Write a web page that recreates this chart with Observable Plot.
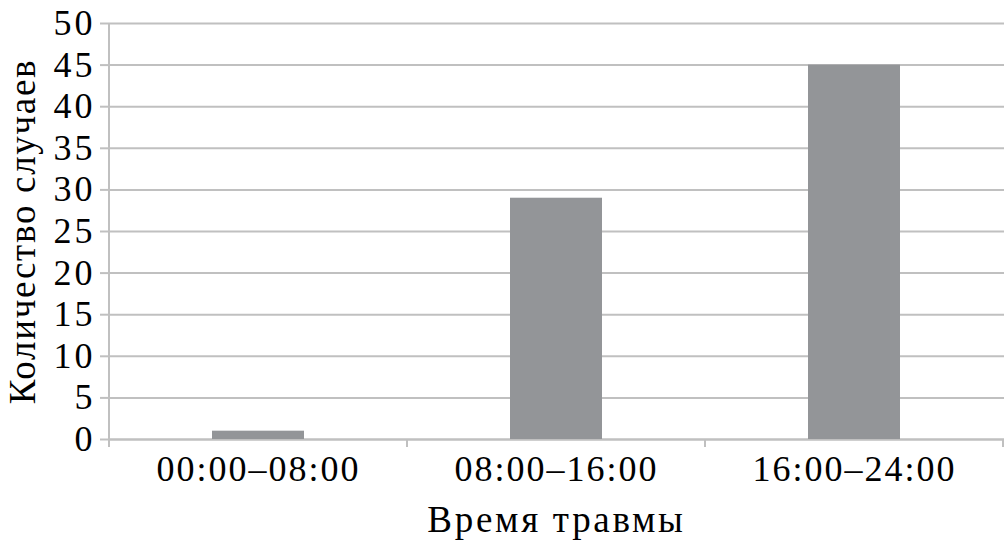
<!DOCTYPE html>
<html>
<head>
<meta charset="utf-8">
<script src="https://cdn.jsdelivr.net/npm/d3@7"></script>
<script src="https://cdn.jsdelivr.net/npm/@observablehq/plot@0.6"></script>
<style>
  html, body { margin: 0; padding: 0; background: #fff; }
  g[aria-label="x-axis tick label"] text { letter-spacing: 2px; }
  g[aria-label="y-axis tick label"] text { letter-spacing: 3px; }
  g.ytitle text { letter-spacing: 1.7px; }
  g.xtitle text { letter-spacing: 2.7px; }
</style>
</head>
<body>
<div id="chart"></div>
<script>
const categories = ["00:00–08:00", "08:00–16:00", "16:00–24:00"];
const counts = [1, 29, 45];
const yTicks = [0, 5, 10, 15, 20, 25, 30, 35, 40, 45, 50];
const xTitle = "Время травмы";
const yTitle = "Количество случаев";

const data = categories.map((c, i) => ({category: c, count: counts[i]}));
const gridColor = "#c0c0c0";
const font = "'Liberation Serif', 'DejaVu Serif', serif";

// category divider ticks and left axis line, derived from the scales
function dividers(index, scales, values, dimensions, context) {
  const x = scales.x, y = scales.y;
  const bw = x.bandwidth();
  const step = x.step ? x.step() : bw / (1 - 0.69);
  const g = d3.create("svg:g");
  const y0 = y(0), yTop = y(d3.max(yTicks));
  const edges = categories.map(c => x(c) - (step - bw) / 2);
  edges.push(x(categories[categories.length - 1]) + bw + (step - bw) / 2);
  edges.forEach((e, i) => {
    g.append("line")
      .attr("x1", e).attr("x2", e)
      .attr("y1", i === 0 ? yTop : y0).attr("y2", y0 + 8)
      .attr("stroke", gridColor).attr("stroke-width", 2);
  });
  return g.node();
}

const chart = Plot.plot({
  width: 1006,
  height: 552,
  marginLeft: 108,
  marginRight: 2,
  marginTop: 23,
  marginBottom: 113,
  style: {fontFamily: font, fontSize: "35px", color: "#000", background: "#fff"},
  x: {domain: categories, paddingInner: 0.69, paddingOuter: 0.345, label: null},
  y: {domain: [0, 50], label: null},
  marks: [
    Plot.gridY(yTicks, {stroke: gridColor, strokeOpacity: 1, strokeWidth: 2}),
    Plot.axisY(yTicks, {tickSize: 8, tickPadding: 5, stroke: gridColor, strokeWidth: 2, label: null, fontSize: 36}),
    Plot.axisX({tickSize: 0, tickPadding: 16, label: null, fontSize: 36}),
    Plot.ruleY([0], {stroke: gridColor, strokeWidth: 2}),
    Plot.barY(data, {x: "category", y: "count", fill: "#939598"}),
    dividers,
    Plot.text([yTitle], {frameAnchor: "left", textAnchor: "middle", rotate: -90, dx: -85, fontSize: 37, fill: "#000", className: "ytitle"}),
    Plot.text([xTitle], {frameAnchor: "bottom", textAnchor: "middle", dy: 92, fontSize: 37, fill: "#000", className: "xtitle"})
  ]
});
document.getElementById("chart").appendChild(chart);
</script>
</body>
</html>
